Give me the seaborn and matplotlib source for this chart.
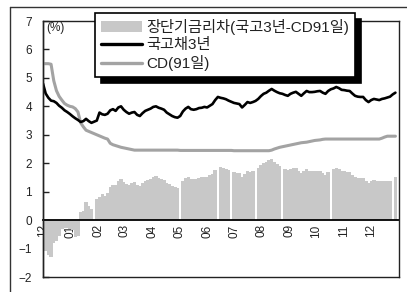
import numpy as np
import pandas as pd
import matplotlib
matplotlib.use("Agg")
import matplotlib.pyplot as plt
import matplotlib.dates as mdates
from matplotlib.patches import Patch
from matplotlib.lines import Line2D
import seaborn as sns

# ---- data (every 3 days from 2011-12-01) ----
start_date = "2011-12-01"
step_days = 3
ktb3y = [4.80, 4.45, 4.30, 4.20, 4.18, 4.12, 4.02, 3.95, 3.86, 3.80,
         3.73, 3.65, 3.58, 3.52, 3.45, 3.48, 3.56, 3.48, 3.42, 3.46,
         3.50, 3.78, 3.72, 3.70, 3.74, 3.86, 3.90, 3.84, 3.96, 4.00,
         3.88, 3.80, 3.74, 3.78, 3.80, 3.70, 3.66, 3.76, 3.84, 3.88,
         3.92, 3.98, 4.00, 3.95, 3.92, 3.88, 3.78, 3.72, 3.66, 3.62,
         3.60, 3.66, 3.82, 3.92, 3.98, 3.90, 3.88, 3.90, 3.94, 3.95,
         3.98, 3.96, 4.02, 4.08, 4.22, 4.33, 4.30, 4.28, 4.25, 4.20,
         4.16, 4.12, 4.10, 4.08, 3.96, 4.05, 4.15, 4.12, 4.15, 4.19,
         4.26, 4.36, 4.44, 4.48, 4.55, 4.61, 4.55, 4.50, 4.46, 4.44,
         4.40, 4.37, 4.44, 4.48, 4.51, 4.44, 4.37, 4.46, 4.54, 4.50,
         4.50, 4.51, 4.53, 4.54, 4.48, 4.44, 4.54, 4.60, 4.63, 4.68,
         4.64, 4.58, 4.57, 4.55, 4.54, 4.45, 4.37, 4.34, 4.33, 4.33,
         4.22, 4.15, 4.22, 4.26, 4.24, 4.22, 4.26, 4.28, 4.31, 4.34,
         4.42, 4.48]
cd91 = [5.50, 5.50, 5.50, 5.48, 4.90, 4.55, 4.35, 4.22, 4.10, 4.04,
        4.00, 3.98, 3.92, 3.80, 3.42, 3.28, 3.16, 3.12, 3.08, 3.04,
        3.00, 2.96, 2.92, 2.88, 2.85, 2.70, 2.65, 2.62, 2.59, 2.56,
        2.54, 2.52, 2.50, 2.48, 2.46, 2.46, 2.46, 2.46, 2.46, 2.46,
        2.46, 2.46, 2.46, 2.46, 2.46, 2.46, 2.46, 2.46, 2.46, 2.46,
        2.46, 2.45, 2.45, 2.45, 2.45, 2.45, 2.45, 2.45, 2.45, 2.45,
        2.45, 2.45, 2.45, 2.45, 2.45, 2.45, 2.45, 2.45, 2.45, 2.45,
        2.45, 2.44, 2.44, 2.44, 2.44, 2.44, 2.44, 2.44, 2.44, 2.44,
        2.44, 2.44, 2.44, 2.44, 2.44, 2.46, 2.50, 2.53, 2.56, 2.58,
        2.60, 2.62, 2.64, 2.66, 2.68, 2.70, 2.72, 2.73, 2.74, 2.76,
        2.78, 2.80, 2.81, 2.82, 2.84, 2.85, 2.85, 2.85, 2.85, 2.85,
        2.85, 2.85, 2.85, 2.85, 2.85, 2.85, 2.85, 2.85, 2.85, 2.85,
        2.85, 2.85, 2.85, 2.85, 2.85, 2.85, 2.88, 2.92, 2.95, 2.95,
        2.95, 2.95]
spread = [-0.90, -1.10, -1.22, -1.28, -0.80, -0.75, -0.55, -0.32, -0.28, -0.26,
          -0.30, -0.35, -0.60, -0.55, 0.30, 0.32, 0.62, 0.48, 0.40, np.nan,
          0.74, 0.82, 0.92, 0.85, 0.95, 1.16, 1.25, 1.22, 1.37, 1.44,
          1.34, 1.28, 1.24, 1.30, 1.34, 1.24, 1.20, 1.30, 1.38, 1.42,
          1.46, 1.52, 1.54, 1.49, 1.46, 1.42, 1.32, 1.26, 1.20, 1.16,
          1.14, np.nan, 1.37, 1.47, 1.52, 1.45, 1.43, 1.45, 1.49, 1.50,
          1.53, 1.51, 1.57, 1.63, 1.77, np.nan, 1.85, 1.83, 1.80, 1.75,
          np.nan, 1.68, 1.66, 1.64, 1.52, 1.61, 1.71, 1.68, 1.71, np.nan,
          1.82, 1.92, 2.00, 2.04, 2.11, 2.15, 2.05, 1.97, 1.90, np.nan,
          1.80, 1.75, 1.80, 1.82, 1.83, 1.74, 1.65, 1.73, 1.80, 1.74,
          1.72, 1.71, 1.72, 1.72, 1.64, 1.59, 1.69, np.nan, 1.78, 1.83,
          1.79, 1.73, 1.72, 1.70, 1.69, 1.60, 1.52, 1.49, 1.48, 1.48,
          1.37, 1.30, 1.37, 1.41, 1.39, 1.37, 1.38, 1.36, 1.36, 1.39,
          np.nan, 1.53]
label_spread = "장단기금리차(국고3년-CD91일)"
label_ktb = "국고채3년"
label_cd = "CD(91일)"

dates = pd.date_range(start_date, periods=len(ktb3y), freq=f"{step_days}D")
df = pd.DataFrame({"date": dates, "ktb": ktb3y, "cd": cd91, "spread": spread})

sns.set_style("white")
plt.rcParams["font.family"] = ["Liberation Sans", "Noto Sans CJK KR", "DejaVu Sans"]

W, H = 407, 292
fig = plt.figure(figsize=(W / 100, H / 100), dpi=100)
ax = fig.add_axes([43 / W, 1 - 277 / H, 356 / W, 256 / H])

bar_c = "#c8c8c8"
ax.bar(df["date"], df["spread"], width=step_days * 1.25, align="center",
       color=bar_c, linewidth=0, zorder=1)
sns.lineplot(data=df, x="date", y="cd", ax=ax, color="#a3a3a3", lw=2.2, zorder=3)
sns.lineplot(data=df, x="date", y="ktb", ax=ax, color="black", lw=1.9, zorder=4)

ax.set_xlim(pd.Timestamp("2011-12-01"), pd.Timestamp("2013-01-01"))
ax.set_ylim(-2, 7)
ax.set_yticks(range(-2, 8))
ax.set_xlabel("")
ax.set_ylabel("")

ax.set_xticks(pd.date_range("2011-12-01", "2012-12-01", freq="MS"))
ax.xaxis.set_major_formatter(mdates.DateFormatter("%m"))
ax.spines["bottom"].set_position(("data", 0))
ax.spines["bottom"].set_linewidth(1.3)
ax.spines["bottom"].set_color("black")
ax.spines["bottom"].set_zorder(5)
for s in ("top", "right"):
    ax.spines[s].set_visible(False)
ax.spines["left"].set_linewidth(1.0)
ax.spines["left"].set_color("#222222")

ax.tick_params(axis="x", direction="in", length=4, width=1, pad=3,
               labelrotation=90, labelsize=8.5, colors="#222222")
ax.tick_params(axis="y", direction="in", length=4, width=1, pad=8,
               labelsize=8.5, colors="#222222", left=True)
for lab in ax.get_xticklabels():
    lab.set_verticalalignment("top")

ax.text(0.008, 0.995, "(%)", transform=ax.transAxes, ha="left", va="top",
        fontsize=8.5, color="#222222")

# frame box around axes (drawn on top)
frame = fig.add_axes(ax.get_position(), facecolor="none")
frame.set_xticks([])
frame.set_yticks([])
for s in frame.spines.values():
    s.set_linewidth(1.0)
    s.set_color("#222222")
frame.set_zorder(ax.get_zorder() + 1)

handles = [Patch(facecolor=bar_c, edgecolor="none"),
           Line2D([], [], color="black", lw=2.4),
           Line2D([], [], color="#a3a3a3", lw=2.4)]
leg = frame.legend(handles, [label_spread, label_ktb, label_cd],
                   loc="upper left", bbox_to_anchor=(0.146, 1.031),
                   borderaxespad=0, fontsize=11, frameon=True, fancybox=False,
                   framealpha=1, edgecolor="black", handlelength=2.7,
                   handletextpad=0.25, labelspacing=0.2, borderpad=0.4,
                   shadow={"ox": 4, "oy": -4, "color": "black", "alpha": 1})
leg.get_frame().set_linewidth(1.2)
for t in leg.get_texts():
    t.set_color("#222222")

# outer figure border (top and left)
fig.add_artist(Line2D([10 / W, 1], [1 - 7 / H, 1 - 7 / H], transform=fig.transFigure,
                      color="#333333", lw=1.0))
fig.add_artist(Line2D([10 / W, 10 / W], [0, 1 - 7 / H], transform=fig.transFigure,
                      color="#333333", lw=1.0))

fig.savefig("out.png", dpi=100)
